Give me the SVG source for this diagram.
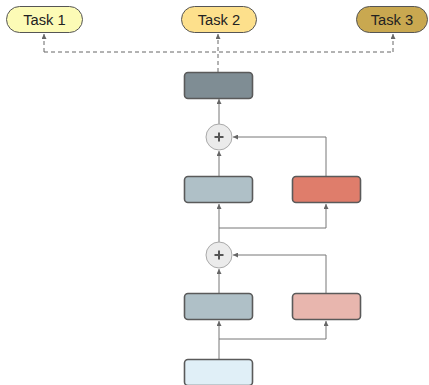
<svg xmlns="http://www.w3.org/2000/svg" width="429" height="385" viewBox="0 0 429 385">
<defs>
<marker id="ah" viewBox="0 0 6 6" refX="6" refY="3" markerWidth="5" markerHeight="5" orient="auto" markerUnits="userSpaceOnUse">
<path d="M0,0 L6,3 L0,6 z" fill="#666"/>
</marker>
</defs>
<style>
.box{stroke:#5a5a5a;stroke-width:1.6}
.pill{stroke:#555;stroke-width:1}
.t{font-family:"Liberation Sans",Arial,sans-serif;font-size:14.7px;fill:#222;text-anchor:middle}
.c{fill:none;stroke:#777;stroke-width:1}
.d{fill:none;stroke:#666;stroke-width:1;stroke-dasharray:4,3}
.plus{fill:#ebebeb;stroke:#aaa;stroke-width:1}
.pl{stroke:#555;stroke-width:2}
</style>
<g id="connectors">
<path class="d" d="M218,72 V34" marker-end="url(#ah)"/>
<path class="d" d="M44,52 H393"/>
<path class="d" d="M44,52 V34" marker-end="url(#ah)"/>
<path class="d" d="M393,52 V34" marker-end="url(#ah)"/>
<path class="c" d="M219,124 V99" marker-end="url(#ah)"/>
<path class="c" d="M219,176 V151" marker-end="url(#ah)"/>
<path class="c" d="M326,176 V137 H233" marker-end="url(#ah)"/>
<path class="c" d="M219,242 V204" marker-end="url(#ah)"/>
<path class="c" d="M219,228 H326 V204" marker-end="url(#ah)"/>
<path class="c" d="M219,293 V269" marker-end="url(#ah)"/>
<path class="c" d="M326,293 V255 H233" marker-end="url(#ah)"/>
<path class="c" d="M219,359 V321" marker-end="url(#ah)"/>
<path class="c" d="M219,339 H326 V321" marker-end="url(#ah)"/>
</g>
<g id="task1"><rect class="pill" x="6.5" y="6.5" width="76" height="26" rx="13" fill="#fcfbb6"/><text class="t" x="44.5" y="24.5">Task 1</text></g>
<g id="task2"><rect class="pill" x="181.5" y="6.5" width="75" height="26" rx="13" fill="#fde08c"/><text class="t" x="219" y="24.5">Task 2</text></g>
<g id="task3"><rect class="pill" x="356.5" y="6.5" width="71" height="26" rx="13" fill="#c9a850"/><text class="t" x="392" y="24.5">Task 3</text></g>
<g id="top"><rect class="box" x="184.5" y="72.5" width="68" height="26" rx="3.5" fill="#7f8d94"/></g>
<g id="plus1"><circle class="plus" cx="219" cy="137" r="13"/><path class="pl" d="M214.5,137 H223.5 M219,132.5 V141.5"/></g>
<g id="mid1"><rect class="box" x="184.5" y="176.5" width="68" height="26" rx="3.5" fill="#afc0c7"/></g>
<g id="red"><rect class="box" x="292.5" y="176.5" width="68" height="26" rx="3.5" fill="#df7d6b"/></g>
<g id="plus2"><circle class="plus" cx="219" cy="255" r="13"/><path class="pl" d="M214.5,255 H223.5 M219,250.5 V259.5"/></g>
<g id="mid2"><rect class="box" x="184.5" y="293.5" width="68" height="26" rx="3.5" fill="#afc0c7"/></g>
<g id="pink"><rect class="box" x="292.5" y="293.5" width="68" height="26" rx="3.5" fill="#e8b6ae"/></g>
<g id="input"><rect class="box" x="184.5" y="359.5" width="68" height="26" rx="3.5" fill="#e0eff7"/></g>
</svg>
